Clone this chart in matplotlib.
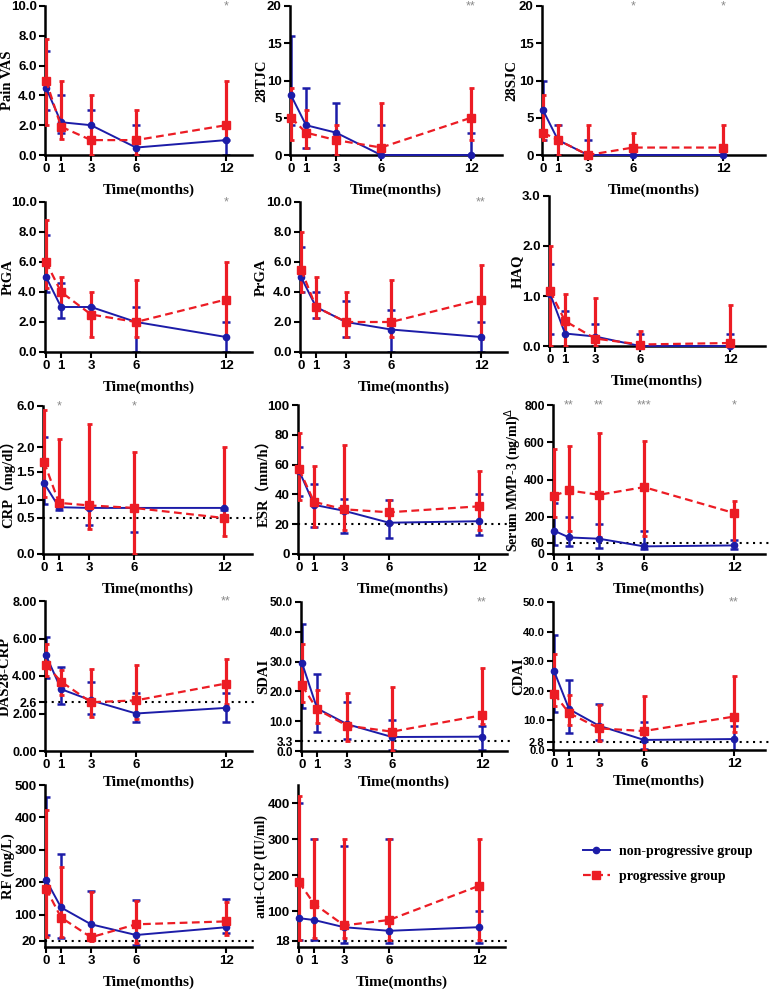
import numpy as np
import matplotlib
matplotlib.use('Agg')
import matplotlib.pyplot as plt
from matplotlib.lines import Line2D

months = [0, 1, 3, 6, 12]

# blue = non-progressive group, red = progressive group (median, lower, upper)
vas_b = [4.5, 2.2, 2.0, 0.5, 1.0]
vas_b_lo = [3.0, 1.5, 1.0, 0.0, 0.0]
vas_b_hi = [7.0, 4.0, 3.0, 2.0, 1.0]
vas_r = [5.0, 1.9, 1.0, 1.0, 2.0]
vas_r_lo = [2.0, 1.1, 0.0, 0.0, 1.0]
vas_r_hi = [7.8, 5.0, 4.0, 3.0, 5.0]

tjc_b = [8, 4, 3, 0, 0]
tjc_b_lo = [4, 1, 0, 0, 0]
tjc_b_hi = [16, 9, 7, 4, 3]
tjc_r = [5, 3, 2, 1, 5]
tjc_r_lo = [2, 1, 0, 0, 2]
tjc_r_hi = [9, 6, 4, 7, 9]

sjc_b = [6, 2, 0, 0, 0]
sjc_b_lo = [2, 0, 0, 0, 0]
sjc_b_hi = [10, 4, 2, 0, 0]
sjc_r = [3, 2, 0, 1, 1]
sjc_r_lo = [2, 0, 0, 0, 0]
sjc_r_hi = [8, 4, 4, 3, 4]

ptga_b = [5.0, 3.0, 3.0, 2.0, 1.0]
ptga_b_lo = [4.0, 2.3, 2.5, 0.0, 0.0]
ptga_b_hi = [7.8, 4.6, 3.0, 3.0, 2.0]
ptga_r = [6.0, 4.0, 2.5, 2.0, 3.5]
ptga_r_lo = [4.3, 3.0, 1.0, 1.0, 1.0]
ptga_r_hi = [8.8, 5.0, 4.0, 4.8, 6.0]

prga_b = [5.0, 3.0, 2.0, 1.5, 1.0]
prga_b_lo = [4.0, 2.3, 1.0, 0.0, 0.0]
prga_b_hi = [7.0, 4.0, 3.4, 2.8, 2.0]
prga_r = [5.5, 3.0, 2.0, 2.0, 3.5]
prga_r_lo = [4.0, 2.3, 1.0, 1.0, 0.9]
prga_r_hi = [8.0, 5.0, 4.0, 4.8, 5.8]

haq_b = [1.05, 0.25, 0.19, 0.0, 0.0]
haq_b_lo = [0.25, 0.0, 0.0, 0.0, 0.0]
haq_b_hi = [1.65, 0.7, 0.45, 0.25, 0.25]
haq_r = [1.1, 0.5, 0.15, 0.03, 0.06]
haq_r_lo = [0.0, 0.0, 0.0, 0.0, 0.0]
haq_r_hi = [2.0, 1.05, 0.97, 0.3, 0.83]

crp_b = [1.3, 0.8, 0.78, 0.78, 0.78]
crp_b_lo = [0.9, 0.72, 0.4, 0.3, 0.72]
crp_b_hi = [3.0, 1.0, 0.9, 0.78, 0.78]
crp_r = [1.7, 0.92, 0.85, 0.78, 0.5]
crp_r_lo = [1.05, 0.78, 0.35, 0.0, 0.25]
crp_r_hi = [5.6, 2.8, 4.2, 1.9, 2.0]

esr_b = [56, 33, 29, 21, 22]
esr_b_lo = [39, 18, 14, 11, 13]
esr_b_hi = [72, 47, 37, 36, 40]
esr_r = [57, 35, 30, 28, 32]
esr_r_lo = [36, 18, 16, 20, 16]
esr_r_hi = [81, 59, 73, 36, 56]

mmp_b = [125, 89, 82, 41, 46]
mmp_b_lo = [50, 45, 34, 27, 27]
mmp_b_hi = [273, 200, 160, 121, 77]
mmp_r = [314, 341, 318, 359, 220]
mmp_r_lo = [196, 125, 91, 95, 41]
mmp_r_hi = [562, 580, 648, 609, 282]

das_b = [5.1, 3.3, 2.7, 2.0, 2.3]
das_b_lo = [3.9, 2.5, 2.0, 1.55, 1.55]
das_b_hi = [6.1, 4.5, 3.7, 3.1, 3.1]
das_r = [4.6, 3.7, 2.6, 2.7, 3.6]
das_r_lo = [4.0, 3.0, 1.8, 1.7, 2.5]
das_r_hi = [5.7, 4.3, 4.4, 4.6, 4.9]

sdai_b = [29.5, 14.3, 9.0, 4.7, 4.8]
sdai_b_lo = [14.5, 6.5, 4.0, 0.3, 0.3]
sdai_b_hi = [42.5, 26.0, 16.5, 10.5, 8.5]
sdai_r = [22.0, 14.0, 8.5, 6.5, 12.0]
sdai_r_lo = [16.5, 9.5, 3.3, 0.0, 9.0]
sdai_r_hi = [36.0, 20.5, 19.5, 21.5, 28.0]

cdai_b = [26.7, 13.8, 8.2, 3.4, 3.7]
cdai_b_lo = [12.8, 5.8, 3.5, 0.3, 0.0]
cdai_b_hi = [39.0, 23.5, 15.7, 9.5, 8.0]
cdai_r = [19.0, 12.5, 7.3, 6.4, 11.3]
cdai_r_lo = [15.0, 8.5, 3.0, 0.0, 6.0]
cdai_r_hi = [32.5, 18.5, 15.3, 18.4, 25.0]

rf_b = [207, 122, 70, 37, 61]
rf_b_lo = [37, 27, 27, 5, 43]
rf_b_hi = [463, 287, 174, 146, 149]
rf_r = [180, 91, 30, 70, 79]
rf_r_lo = [30, 30, 20, 12, 37]
rf_r_hi = [424, 247, 171, 143, 140]

ccp_b = [80, 75, 55, 45, 55]
ccp_b_lo = [20, 20, 10, 10, 10]
ccp_b_hi = [400, 300, 280, 300, 100]
ccp_r = [180, 120, 60, 75, 170]
ccp_r_lo = [20, 25, 25, 20, 20]
ccp_r_hi = [420, 300, 300, 300, 300]

BLUE = '#1c1ca8'
RED = '#ec1c24'
SERIF = ['Liberation Serif', 'Noto Sans CJK SC', 'DejaVu Serif']
SANS = ['Liberation Sans', 'DejaVu Sans']

# CRP axis in the original is broken/compressed above 1.5
crp_knots = [0, 0.5, 1.0, 1.5, 2.0, 6.0]
crp_pos = [0, 36, 54, 82, 107, 148]


def crp_fwd(v):
    return np.interp(v, crp_knots, crp_pos)


def crp_inv(p):
    return np.interp(p, crp_pos, crp_knots)


W, H = 773, 992
fig = plt.figure(figsize=(W / 100, H / 100), dpi=100)


def make_ax(left, top, right, bottom):
    ax = fig.add_axes([left / W, 1 - bottom / H, (right - left) / W, (bottom - top) / H])
    ax.set_xlim(-0.07, -0.07 + (right - left) / 15.0)
    ax.patch.set_alpha(0)
    return ax


def panel(box, label, b, blo, bhi, r, rlo, rhi, ylim, yticks, yticklabels,
          thresh=None, stars=(), crp=False, label_x=14, xpad=6, label_size=10.5, ytick_size=9.5):
    ax = make_ax(*box)
    left, top, right, bottom = box
    if crp:
        ax.set_yscale('function', functions=(crp_fwd, crp_inv))
    b = np.array(b, float); r = np.array(r, float)
    ax.errorbar(months, b, yerr=[b - np.array(blo), np.array(bhi) - b], fmt='none',
                ecolor=BLUE, elinewidth=1.8, capsize=3.2, capthick=1.8, zorder=2)
    ax.errorbar(months, r, yerr=[r - np.array(rlo), np.array(rhi) - r], fmt='none',
                ecolor=RED, elinewidth=2.3, capsize=1.8, capthick=2.0, zorder=3)
    ax.plot(months, b, '-o', color=BLUE, lw=1.4, ms=4.5, zorder=4, clip_on=False)
    ax.plot(months, r, '--s', color=RED, lw=1.6, ms=5.5, dashes=(3.5, 2), zorder=5, clip_on=False)
    if thresh is not None:
        ax.axhline(thresh, xmin=0, xmax=1.03, color='black', ls=(0, (1, 2.2)), lw=1.5,
                   zorder=1, clip_on=False)
    ax.set_ylim(*ylim)
    ax.set_yticks(yticks)
    ax.set_yticklabels(yticklabels)
    ax.set_xticks(months)
    for s in ['top', 'right']:
        ax.spines[s].set_visible(False)
    for s in ['left', 'bottom']:
        ax.spines[s].set_linewidth(1.8)
    ax.tick_params(width=1.5, length=4, pad=2)
    for t in ax.get_xticklabels():
        t.set_fontfamily(SANS)
        t.set_fontweight('bold')
        t.set_fontsize(9.5)
    for t in ax.get_yticklabels():
        t.set_fontfamily(SANS)
        t.set_fontweight('bold')
        t.set_fontsize(ytick_size)
    ax.set_ylabel(label, fontfamily=SERIF, fontweight='bold', fontsize=label_size)
    ax.yaxis.set_label_coords((label_x - left) / (right - left), 0.5)
    ax.set_xlabel('Time(months)', fontfamily=SERIF, fontweight='bold', fontsize=11, labelpad=xpad)
    for xs, txt in stars:
        ax.text(xs, 1.0, txt, transform=ax.get_xaxis_transform(), ha='center', va='center',
                color='#8a8a8a', fontsize=9, family=SANS)
    return ax


f1 = lambda v: ['%.1f' % x for x in v]
f0 = lambda v: ['%d' % x for x in v]

panel((45, 6, 252, 155), 'Pain VAS', vas_b, vas_b_lo, vas_b_hi, vas_r, vas_r_lo, vas_r_hi,
      (0, 10), [0, 2, 4, 6, 8, 10], f1([0, 2, 4, 6, 8, 10]), stars=[(12, '*')], label_x=14)
panel((290, 6, 502, 155), '28TJC', tjc_b, tjc_b_lo, tjc_b_hi, tjc_r, tjc_r_lo, tjc_r_hi,
      (0, 20), [0, 5, 10, 15, 20], f0([0, 5, 10, 15, 20]), stars=[(12, '**')], label_x=268)
panel((542, 6, 765, 155), '28SJC', sjc_b, sjc_b_lo, sjc_b_hi, sjc_r, sjc_r_lo, sjc_r_hi,
      (0, 20), [0, 5, 10, 15, 20], f0([0, 5, 10, 15, 20]), stars=[(6, '*'), (12, '*')],
      label_x=518)

panel((45, 202, 252, 352), 'PtGA', ptga_b, ptga_b_lo, ptga_b_hi, ptga_r, ptga_r_lo, ptga_r_hi,
      (0, 10), [0, 2, 4, 6, 8, 10], f1([0, 2, 4, 6, 8, 10]), stars=[(12, '*')], label_x=15)
panel((300, 202, 507, 352), 'PrGA', prga_b, prga_b_lo, prga_b_hi, prga_r, prga_r_lo, prga_r_hi,
      (0, 10), [0, 2, 4, 6, 8, 10], f1([0, 2, 4, 6, 8, 10]), stars=[(12, '**')], label_x=268)
panel((549, 196, 765, 346), 'HAQ', haq_b, haq_b_lo, haq_b_hi, haq_r, haq_r_lo, haq_r_hi,
      (0, 3), [0, 1, 2, 3], f1([0, 1, 2, 3]), label_x=524)

panel((43, 406, 252, 554), 'CRP\uff08mg/dl\uff09', crp_b, crp_b_lo, crp_b_hi, crp_r, crp_r_lo, crp_r_hi,
      (0, 6), crp_knots, f1(crp_knots), thresh=0.5, stars=[(1, '*'), (6, '*')], crp=True,
      label_x=15)
panel((298, 405, 507, 554), 'ESR\uff08mm/h\uff09', esr_b, esr_b_lo, esr_b_hi, esr_r, esr_r_lo, esr_r_hi,
      (0, 100), [0, 20, 40, 60, 80, 100], f0([0, 20, 40, 60, 80, 100]), thresh=20, label_x=270)
panel((553, 405, 765, 554), 'Serum MMP-3 (ng/ml)$^{\\Delta}$', mmp_b, mmp_b_lo, mmp_b_hi,
      mmp_r, mmp_r_lo, mmp_r_hi, (0, 800), [0, 60, 200, 400, 600, 800],
      f0([0, 60, 200, 400, 600, 800]), thresh=60,
      stars=[(1, '**'), (3, '**'), (6, '***'), (12, '*')], label_x=523, ytick_size=8.8,
      label_size=10)

panel((45, 601, 252, 751), 'DAS28-CRP', das_b, das_b_lo, das_b_hi, das_r, das_r_lo, das_r_hi,
      (0, 8), [0, 2, 2.6, 4, 6, 8], ['0.00', '2.00', '2.6', '4.00', '6.00', '8.00'],
      thresh=2.6, stars=[(12, '**')], label_x=12, xpad=3, ytick_size=9)
panel((301, 602, 507, 751), 'SDAI', sdai_b, sdai_b_lo, sdai_b_hi, sdai_r, sdai_r_lo, sdai_r_hi,
      (0, 50), [0, 3.3, 10, 20, 30, 40, 50], ['0.0', '3.3', '10.0', '20.0', '30.0', '40.0', '50.0'],
      thresh=3.3, stars=[(12, '**')], label_x=270, xpad=3, ytick_size=8.5)
panel((553, 602, 765, 750), 'CDAI', cdai_b, cdai_b_lo, cdai_b_hi, cdai_r, cdai_r_lo, cdai_r_hi,
      (0, 50), [0, 2.8, 10, 20, 30, 40, 50], ['0.0', '2.8', '10.0', '20.0', '30.0', '40.0', '50.0'],
      thresh=2.8, stars=[(12, '**')], label_x=525, xpad=3, ytick_size=8)

panel((45, 785, 252, 947), 'RF (mg/L)', rf_b, rf_b_lo, rf_b_hi, rf_r, rf_r_lo, rf_r_hi,
      (0, 500), [20, 100, 200, 300, 400, 500], f0([20, 100, 200, 300, 400, 500]), thresh=20,
      label_x=15)
panel((298, 785, 505, 947), 'anti-CCP (IU/ml)', ccp_b, ccp_b_lo, ccp_b_hi, ccp_r, ccp_r_lo, ccp_r_hi,
      (0, 450), [18, 100, 200, 300, 400], f0([18, 100, 200, 300, 400]), thresh=18, label_x=268,
      label_size=10)

handles = [Line2D([], [], color=BLUE, marker='o', ms=4.5, lw=1.4),
           Line2D([], [], color=RED, marker='s', ms=5.5, lw=1.6, ls='--', dashes=(3.5, 2))]
fig.legend(handles, ['non-progressive group', 'progressive group'],
           loc='upper left', bbox_to_anchor=(570 / W, 1 - 832 / H), frameon=False,
           prop={'family': SERIF, 'weight': 'bold', 'size': 10}, handlelength=2.0,
           labelspacing=0.9, handletextpad=0.6)

fig.savefig('out.png', dpi=100)
